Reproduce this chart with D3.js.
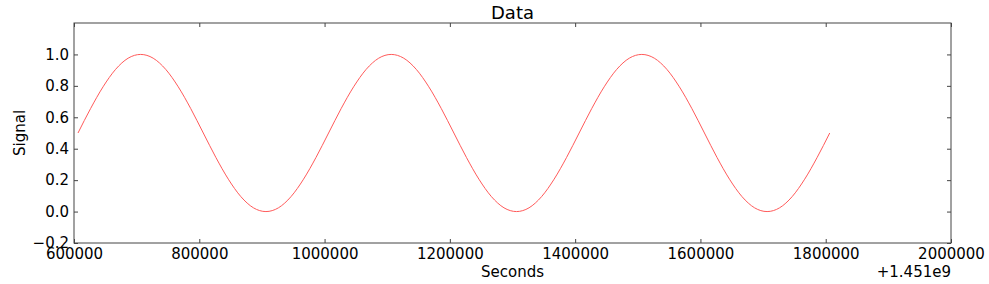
<!DOCTYPE html>
<html>
<head>
<meta charset="utf-8">
<script src="https://cdn.jsdelivr.net/npm/d3@7"></script>
<style>
  body { margin: 0; background: white; }
  svg text { font-family: "DejaVu Sans", sans-serif; fill: #000; }
</style>
</head>
<body>
<div id="chart"></div>
<script>
// x values (seconds, offset from 1.451e9)
let seconds = [606400, 626400, 646400, 666400, 686400, 706400, 726400, 746400, 766400, 786400,
  806400, 826400, 846400, 866400, 886400, 906400, 926400, 946400, 966400, 986400,
  1006400, 1026400, 1046400, 1066400, 1086400, 1106400, 1126400, 1146400, 1166400, 1186400,
  1206400, 1226400, 1246400, 1266400, 1286400, 1306400, 1326400, 1346400, 1366400, 1386400,
  1406400, 1426400, 1446400, 1466400, 1486400, 1506400, 1526400, 1546400, 1566400, 1586400,
  1606400, 1626400, 1646400, 1666400, 1686400, 1706400, 1726400, 1746400, 1766400, 1786400,
  1806400];

// signal values
let signal = [0.5, 0.655, 0.794, 0.905, 0.976, 1.0, 0.976, 0.905, 0.794, 0.655,
  0.5, 0.345, 0.206, 0.095, 0.024, 0.0, 0.024, 0.095, 0.206, 0.345,
  0.5, 0.655, 0.794, 0.905, 0.976, 1.0, 0.976, 0.905, 0.794, 0.655,
  0.5, 0.345, 0.206, 0.095, 0.024, 0.0, 0.024, 0.095, 0.206, 0.345,
  0.5, 0.655, 0.794, 0.905, 0.976, 1.0, 0.976, 0.905, 0.794, 0.655,
  0.5, 0.345, 0.206, 0.095, 0.024, 0.0, 0.024, 0.095, 0.206, 0.345,
  0.5];

let xTicks = [600000, 800000, 1000000, 1200000, 1400000, 1600000, 1800000, 2000000];
let yTicks = [-0.2, 0.0, 0.2, 0.4, 0.6, 0.8, 1.0];

let width = 989, height = 284;
let margin = { top: 23, left: 74, right: 38, bottom: 41 };
let innerW = width - margin.left - margin.right,
  innerH = height - margin.top - margin.bottom;

let svg = d3.select('#chart')
  .append('svg')
  .attr('width', width)
  .attr('height', height);

let g = svg.append('g')
  .attr('transform', `translate(${margin.left}, ${margin.top})`);

let xScale = d3.scaleLinear().domain([600000, 2000000]).range([0, innerW]);
let yScale = d3.scaleLinear().domain([-0.2, 1.2]).range([innerH, 0]);

let fmtY = d => d3.format('.1f')(d).replace('-', '\u2212');

// ticks point inward on all four sides, matplotlib-classic style
let axisStyle = function(sel) {
  sel.select('.domain').remove();
  sel.selectAll('line').attr('stroke', '#444');
  sel.selectAll('text').style('font-size', '15px');
};

g.append('g')
  .attr('transform', `translate(0, ${innerH})`)
  .call(d3.axisBottom(xScale).tickValues(xTicks).tickSize(-4).tickPadding(5).tickFormat(d3.format('d')))
  .call(axisStyle);

g.append('g')
  .call(d3.axisTop(xScale).tickValues(xTicks).tickSize(-4).tickFormat(''))
  .call(axisStyle);

g.append('g')
  .call(d3.axisLeft(yScale).tickValues(yTicks).tickSize(-4).tickPadding(5).tickFormat(fmtY))
  .call(axisStyle);

g.append('g')
  .attr('transform', `translate(${innerW}, 0)`)
  .call(d3.axisRight(yScale).tickValues(yTicks).tickSize(-4).tickFormat(''))
  .call(axisStyle);

// frame
g.append('rect')
  .attr('width', innerW)
  .attr('height', innerH)
  .attr('fill', 'none')
  .attr('stroke', '#444')
  .attr('stroke-width', 1);

// the signal line
let line = d3.line()
  .x((d, i) => xScale(seconds[i]))
  .y(d => yScale(d))
  .curve(d3.curveMonotoneX);

g.append('path')
  .datum(signal)
  .attr('d', line)
  .attr('fill', 'none')
  .attr('stroke', '#ff5a5a')
  .attr('stroke-width', 1);

// title
svg.append('text')
  .attr('x', margin.left + innerW / 2)
  .attr('y', 19)
  .style('text-anchor', 'middle')
  .style('font-size', '18px')
  .text('Data');

// x label
svg.append('text')
  .attr('x', margin.left + innerW / 2)
  .attr('y', 277)
  .style('text-anchor', 'middle')
  .style('font-size', '15px')
  .text('Seconds');

// offset text
svg.append('text')
  .attr('x', margin.left + innerW)
  .attr('y', 277)
  .style('text-anchor', 'end')
  .style('font-size', '15px')
  .text('+1.451e9');

// y label
svg.append('text')
  .attr('transform', `translate(25, ${margin.top + innerH / 2}) rotate(-90)`)
  .style('text-anchor', 'middle')
  .style('font-size', '15px')
  .text('Signal');
</script>
</body>
</html>
